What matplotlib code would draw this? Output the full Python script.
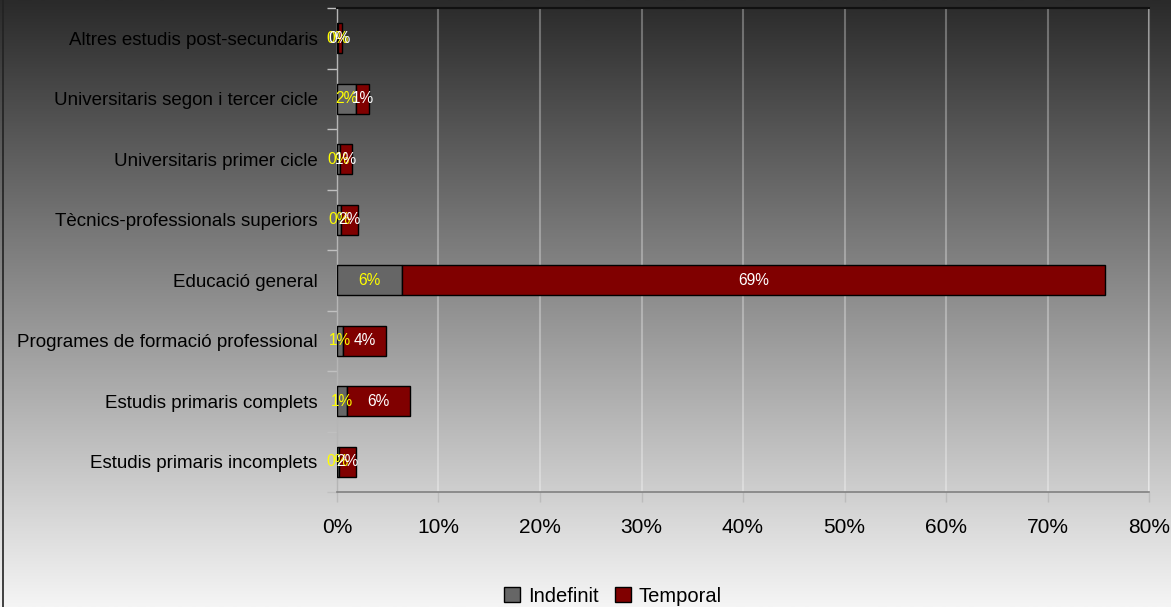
import numpy as np
import matplotlib
matplotlib.use("Agg")
import matplotlib.pyplot as plt
from matplotlib.patches import Patch
from matplotlib.lines import Line2D

plt.rcParams['font.family'] = ['Liberation Sans', 'DejaVu Sans']

categories = [
    "Altres estudis post-secundaris",
    "Universitaris segon i tercer cicle",
    "Universitaris primer cicle",
    "Tècnics-professionals superiors",
    "Educació general",
    "Programes de formació professional",
    "Estudis primaris complets",
    "Estudis primaris incomplets",
]
indefinit = [0.05, 1.9, 0.25, 0.4, 6.45, 0.6, 1.0, 0.17]
temporal = [0.4, 1.3, 1.25, 1.7, 69.2, 4.27, 6.15, 1.74]
xticks = [0, 10, 20, 30, 40, 50, 60, 70, 80]
series_names = ["Indefinit", "Temporal"]

W, H = 1171, 607
fig = plt.figure(figsize=(W / 100, H / 100), dpi=100)

# background gradient
bg = fig.add_axes([0, 0, 1, 1], zorder=-10)
grad = np.linspace(42, 245, 256).reshape(-1, 1) / 255.0
bg.imshow(np.dstack([grad, grad, grad]), aspect='auto', extent=[0, 1, 0, 1], origin='upper')
bg.set_xlim(0, 1)
bg.set_ylim(0, 1)
bg.axis('off')
bg.add_line(Line2D([2.5 / W, 2.5 / W], [0, 1], color='#222222', lw=1.2))

ax = fig.add_axes([337 / W, 1 - 492 / H, (1149 - 337) / W, (492 - 8) / H])
ax.set_facecolor('none')

y = np.arange(len(categories))
b1 = ax.barh(y, indefinit, height=0.5, color='#666666', edgecolor='black', linewidth=1, zorder=3)
b2 = ax.barh(y, temporal, left=indefinit, height=0.5, color='#800000', edgecolor='black', linewidth=1, zorder=3)

ax.bar_label(b1, labels=[f"{v:.0f}%" for v in indefinit], label_type='center', color='#ffff00', fontsize=11.2, zorder=4)
ax.bar_label(b2, labels=[f"{v:.0f}%" for v in temporal], label_type='center', color='white', fontsize=11.2, zorder=4)

ax.set_xlim(0, 80)
ax.set_ylim(len(categories) - 0.5, -0.5)
ax.set_xticks(xticks)
ax.set_xticklabels([f"{t}%" for t in xticks], fontsize=15)
ax.set_yticks(y)
ax.set_yticklabels(categories, fontsize=13.5)
ax.tick_params(axis='y', which='major', length=0, pad=14)
ax.set_yticks(np.arange(-0.5, len(categories)), minor=True)
ax.tick_params(axis='y', which='minor', length=7.5, color='#c0c0c0', direction='out', width=1)
ax.tick_params(axis='x', which='major', length=7.5, color='#bcbcbc', direction='out', width=1, pad=11.5)

ax.grid(axis='x', color='white', alpha=0.3, linewidth=1.5, zorder=1)
ax.set_axisbelow(True)

ax.spines['top'].set_color('#111111')
ax.spines['top'].set_linewidth(1.5)
ax.spines['right'].set_color((1, 1, 1, 0.3))
ax.spines['right'].set_linewidth(1.5)
ax.spines['left'].set_color('#b5b5b5')
ax.spines['left'].set_linewidth(1)
ax.spines['bottom'].set_color('#808080')
ax.spines['bottom'].set_linewidth(1.2)

handles = [Patch(facecolor='#666666', edgecolor='black', label=series_names[0]),
           Patch(facecolor='#800000', edgecolor='black', label=series_names[1])]
fig.legend(handles=handles, loc='center', bbox_to_anchor=(613 / W, 1 - 596 / H), ncol=2,
           frameon=False, fontsize=14.5, handlelength=0.8, handleheight=0.8,
           handletextpad=0.4, columnspacing=0.8)

fig.savefig("out.png", dpi=100)
